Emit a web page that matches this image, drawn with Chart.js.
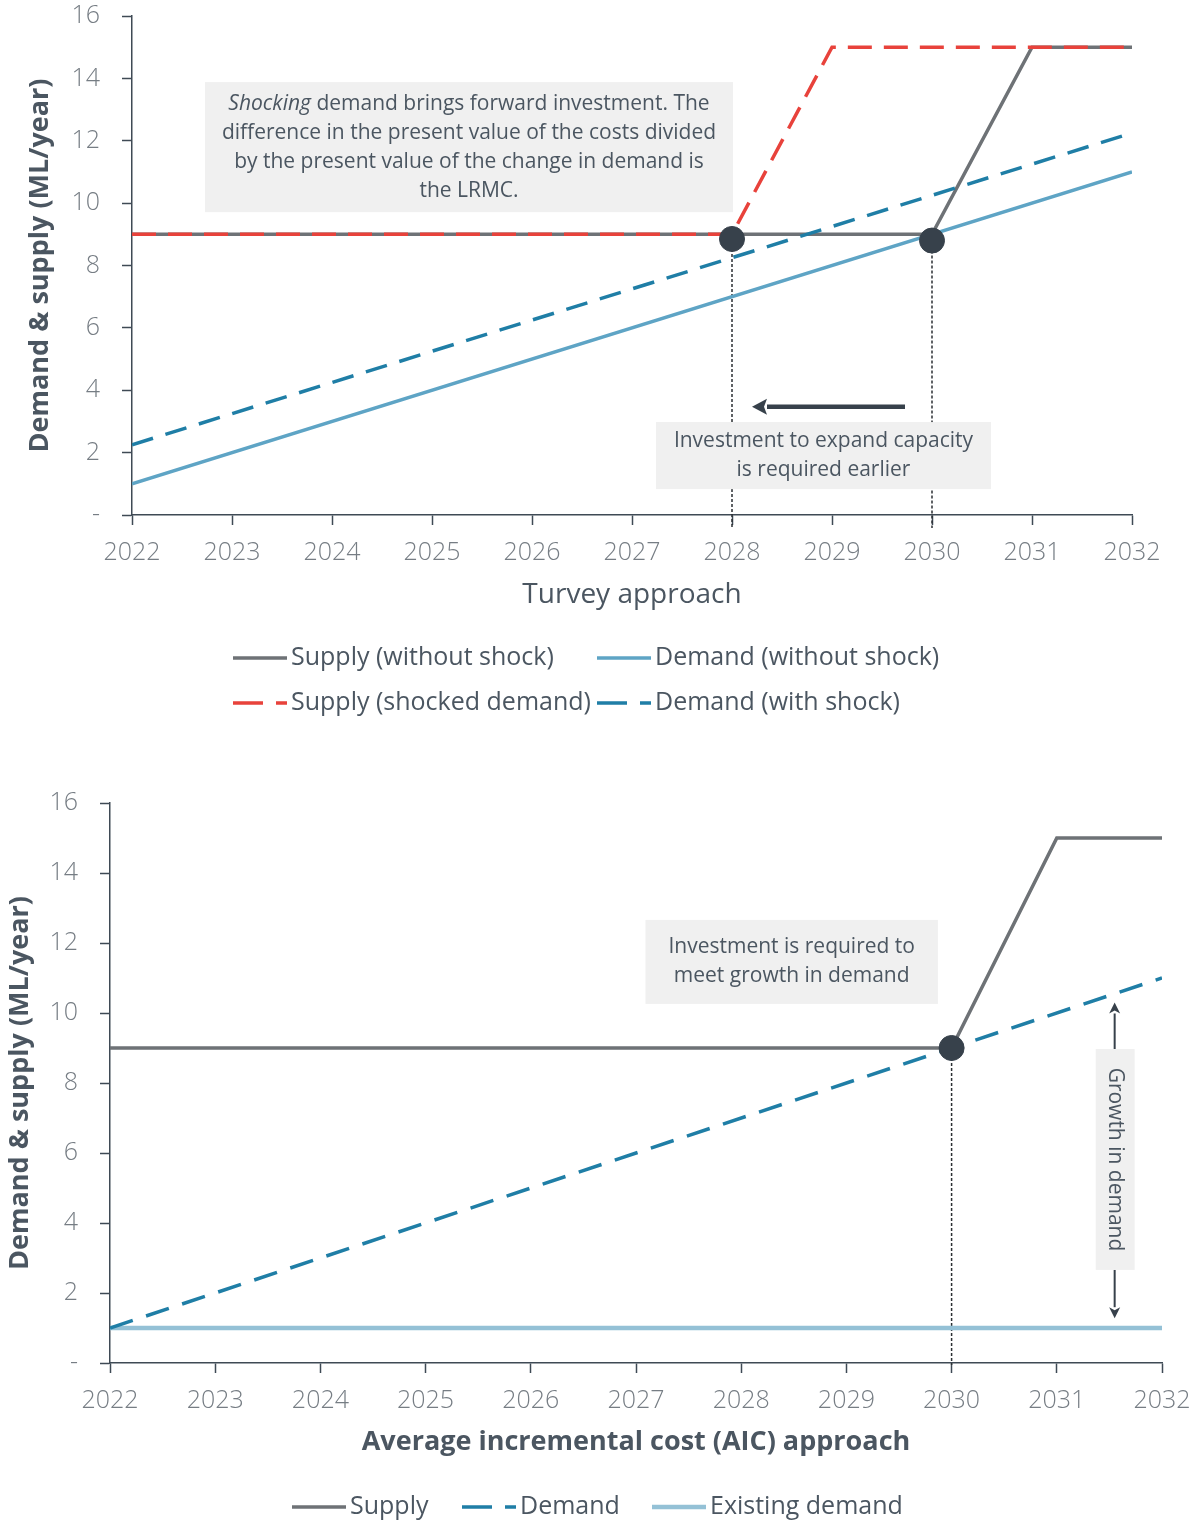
<!DOCTYPE html>
<html>
<head>
<meta charset="utf-8">
<script src="https://cdn.jsdelivr.net/npm/chart.js@4.4.1/dist/chart.umd.min.js"></script>
<style>
  body { margin: 0; background: #fff; }
  canvas { display: block; }
</style>
</head>
<body>
<canvas id="turvey" width="1194" height="740"></canvas>
<canvas id="aic" width="1194" height="782"></canvas>
<script>
// Tick labels
const xTickLabels = ["2022", "2023", "2024", "2025", "2026", "2027", "2028", "2029", "2030", "2031", "2032"];
const yTickLabels = ["-", "2", "4", "6", "8", "10", "12", "14", "16"];

// Turvey approach series
const supplyNoShockX = [2022, 2030, 2031, 2032];
const supplyNoShockY = [9, 9, 15, 15];
const supplyShockX = [2022, 2028, 2029, 2032];
const supplyShockY = [9, 9, 15, 15];
const demandNoShockX = [2022, 2032];
const demandNoShockY = [1, 11];
const demandShockX = [2022, 2032];
const demandShockY = [2.25, 12.25];
const turveyDotX = [2028, 2030];
const turveyDotY = [8.85, 8.8];

// AIC approach series
const aicSupplyX = [2022, 2030, 2031, 2032];
const aicSupplyY = [9, 9, 15, 15];
const aicDemandX = [2022, 2032];
const aicDemandY = [1, 11];
const aicExistingX = [2022, 2032];
const aicExistingY = [1, 1];
const aicDotX = [2030];
const aicDotY = [9];

const GREY = "#6e7276";
const LIGHT_BLUE = "#5ea4c5";
const DARK_BLUE = "#1f7ea6";
const RED = "#e8423b";
const PALE_BLUE = "#94c1d6";
const DOT = "#37414b";
const AXIS = "#3f4a55";
const TEXT = "#4b5661";
const TICK_TEXT = "#767d84";
const BOX_FILL = "#f0f0f0";
const FONT = "'Open Sans', 'Noto Sans', sans-serif";

const pts = (xs, ys) => xs.map((x, i) => ({ x, y: ys[i] }));

const line = (label, xs, ys, color, width, dash, order) => ({
  type: "line", label, data: pts(xs, ys), borderColor: color, backgroundColor: color,
  borderWidth: width, borderDash: dash, pointRadius: 0, order, tension: 0,
  borderCapStyle: "butt"
});

const dots = (xs, ys) => ({
  type: "scatter", label: "dots", data: pts(xs, ys), backgroundColor: DOT,
  borderColor: DOT, pointRadius: 12.5, pointHoverRadius: 12.5, order: 0
});

function axisOptions(cfg) {
  return {
    x: {
      type: "linear", min: 2022, max: 2032,
      // fixed box size so the plot area lands where the reference has it
      afterFit: s => { s.height = cfg.xHeight; s.paddingLeft = 0; s.paddingRight = 0; },
      border: { color: AXIS, width: 1.5 },
      grid: { drawOnChartArea: false, tickLength: 10, color: AXIS, tickColor: AXIS, tickWidth: 1.5 },
      ticks: {
        stepSize: 1, padding: 13, color: TICK_TEXT, maxRotation: 0,
        font: { family: FONT, size: 25, weight: "300" },
        callback: v => xTickLabels[v - 2022]
      },
      title: {
        display: true, text: cfg.xTitle, color: TEXT,
        font: { family: FONT, size: cfg.xTitleSize, weight: cfg.xTitleWeight },
        padding: { top: 0, bottom: cfg.xTitlePad }
      }
    },
    y: {
      min: 0, max: 16,
      afterFit: s => { s.width = cfg.yWidth; s.paddingTop = 0; s.paddingBottom = 0; },
      border: { color: AXIS, width: 1.5 },
      grid: { drawOnChartArea: false, tickLength: 10, color: AXIS, tickColor: AXIS, tickWidth: 1.5 },
      ticks: {
        stepSize: 2, padding: 22, color: TICK_TEXT,
        font: { family: FONT, size: 25, weight: "300" },
        callback: v => yTickLabels[v / 2]
      },
      title: {
        display: true, text: "Demand & supply (ML/year)", color: TEXT,
        font: { family: FONT, size: 27, weight: "bold" },
        padding: { top: cfg.yTitlePad, bottom: 0 }
      }
    }
  };
}

// Helpers for annotation drawing
function px(chart, xv, yv) {
  return [chart.scales.x.getPixelForValue(xv), chart.scales.y.getPixelForValue(yv)];
}

function drawVLine(chart, xv, yv, extra) {
  const { ctx } = chart;
  const [x, y] = px(chart, xv, yv);
  ctx.save();
  ctx.strokeStyle = "#2b2f33";
  ctx.lineWidth = 1.5;
  ctx.setLineDash([3, 2]);
  ctx.beginPath();
  ctx.moveTo(x, y);
  ctx.lineTo(x, chart.chartArea.bottom + extra);
  ctx.stroke();
  ctx.restore();
}

function drawArrow(ctx, x0, y0, x1, y1, width, headLen, headW) {
  const ang = Math.atan2(y1 - y0, x1 - x0);
  const bx = x1 - Math.cos(ang) * headLen, by = y1 - Math.sin(ang) * headLen;
  ctx.save();
  ctx.strokeStyle = DOT;
  ctx.fillStyle = DOT;
  ctx.lineWidth = width;
  ctx.beginPath();
  ctx.moveTo(x0, y0);
  ctx.lineTo(bx, by);
  ctx.stroke();
  ctx.beginPath();
  ctx.moveTo(x1, y1);
  ctx.lineTo(bx - Math.sin(ang) * headW / 2, by + Math.cos(ang) * headW / 2);
  ctx.lineTo(bx + Math.cos(ang) * 3, by + Math.sin(ang) * 3);
  ctx.lineTo(bx + Math.sin(ang) * headW / 2, by - Math.cos(ang) * headW / 2);
  ctx.closePath();
  ctx.fill();
  ctx.restore();
}

// box: {x0, x1, y0, y1, lines: [[[text, italic], ...], ...], lineGap}
function drawBox(chart, box) {
  const { ctx } = chart;
  const [l, t] = px(chart, box.x0, box.y0);
  const [r, b] = px(chart, box.x1, box.y1);
  ctx.save();
  ctx.fillStyle = BOX_FILL;
  ctx.fillRect(l, t, r - l, b - t);
  ctx.fillStyle = TEXT;
  ctx.textBaseline = "middle";
  const cx = (l + r) / 2;
  const cy = (t + b) / 2;
  const n = box.lines.length;
  box.lines.forEach((segs, i) => {
    const y = cy + (i - (n - 1) / 2) * box.lineGap;
    const widths = segs.map(([txt, it]) => {
      ctx.font = (it ? "italic " : "") + "21px " + FONT;
      return ctx.measureText(txt).width;
    });
    let x = cx - widths.reduce((a, w) => a + w, 0) / 2;
    segs.forEach(([txt, it], j) => {
      ctx.font = (it ? "italic " : "") + "21px " + FONT;
      ctx.textAlign = "left";
      ctx.fillText(txt, x, y);
      x += widths[j];
    });
  });
  ctx.restore();
}

function drawLegend(ctx, items) {
  ctx.save();
  ctx.font = "25px " + FONT;
  ctx.textBaseline = "middle";
  ctx.fillStyle = TEXT;
  items.forEach(it => {
    ctx.strokeStyle = it.color;
    ctx.lineWidth = it.width;
    ctx.setLineDash(it.dash);
    ctx.beginPath();
    ctx.moveTo(it.x, it.y);
    ctx.lineTo(it.x + 54, it.y);
    ctx.stroke();
    ctx.setLineDash([]);
    ctx.fillText(it.label, it.x + 58, it.y);
  });
  ctx.restore();
}

// Turvey chart
const turveyOverlay = {
  id: "turveyOverlay",
  beforeDatasetsDraw(chart) {
    turveyDotX.forEach((xv, i) => drawVLine(chart, xv, turveyDotY[i], 13));
  },
  afterDatasetsDraw(chart) {
    const { ctx } = chart;
    drawBox(chart, {
      x0: 2022.73, x1: 2028.01, y0: 13.88, y1: 9.71, lineGap: 29,
      lines: [
        [["Shocking", true], [" demand brings forward investment. The", false]],
        [["difference in the present value of the costs divided", false]],
        [["by the present value of the change in demand is", false]],
        [["the LRMC.", false]]
      ]
    });
    drawBox(chart, {
      x0: 2027.24, x1: 2030.59, y0: 2.98, y1: 0.83, lineGap: 29,
      lines: [
        [["Investment to expand capacity", false]],
        [["is required earlier", false]]
      ]
    });
    const [ax0, ay] = px(chart, 2029.73, 3.47);
    const [ax1] = px(chart, 2028.2, 3.47);
    drawArrow(ctx, ax0, ay, ax1, ay, 4.5, 15, 16);
  },
  afterDraw(chart) {
    drawLegend(chart.ctx, [
      { label: "Supply (without shock)", color: GREY, width: 3.5, dash: [], x: 233, y: 658 },
      { label: "Demand (without shock)", color: LIGHT_BLUE, width: 3.5, dash: [], x: 597, y: 658 },
      { label: "Supply (shocked demand)", color: RED, width: 3.5, dash: [30, 13], x: 233, y: 703 },
      { label: "Demand (with shock)", color: DARK_BLUE, width: 3.5, dash: [30, 13], x: 597, y: 703 }
    ]);
  }
};

new Chart(document.getElementById("turvey"), {
  data: {
    datasets: [
      dots(turveyDotX, turveyDotY),
      line("Supply (shocked demand)", supplyShockX, supplyShockY, RED, 3.5, [24, 12], 1),
      line("Demand (with shock)", demandShockX, demandShockY, DARK_BLUE, 3.5, [22, 13], 2),
      line("Supply (without shock)", supplyNoShockX, supplyNoShockY, GREY, 3.5, [], 3),
      line("Demand (without shock)", demandNoShockX, demandNoShockY, LIGHT_BLUE, 3.5, [], 4)
    ]
  },
  options: {
    responsive: false,
    animation: false,
    layout: { padding: { left: 0, right: 62, top: 16, bottom: 0 } },
    plugins: { legend: { display: false }, tooltip: { enabled: false } },
    scales: axisOptions({
      xHeight: 225, xTitle: "Turvey approach", xTitleSize: 28, xTitleWeight: "normal", xTitlePad: 128,
      yWidth: 132, yTitlePad: 24
    })
  },
  plugins: [turveyOverlay]
});

// AIC chart
const aicOverlay = {
  id: "aicOverlay",
  beforeDatasetsDraw(chart) {
    aicDotX.forEach((xv, i) => drawVLine(chart, xv, aicDotY[i], 2));
  },
  afterDatasetsDraw(chart) {
    const { ctx } = chart;
    drawBox(chart, {
      x0: 2027.09, x1: 2029.87, y0: 12.66, y1: 10.26, lineGap: 29,
      lines: [
        [["Investment is required to", false]],
        [["meet growth in demand", false]]
      ]
    });
    // Growth in demand label with arrows
    const [l, t] = px(chart, 2031.37, 8.97);
    const [r, b] = px(chart, 2031.74, 2.66);
    const [ax] = px(chart, 2031.55, 0);
    const [, upY] = px(chart, 0, 10.3);
    const [, downY] = px(chart, 0, 1.28);
    drawArrow(ctx, ax, t, ax, upY, 2, 11, 11);
    drawArrow(ctx, ax, b, ax, downY, 2, 11, 11);
    ctx.save();
    ctx.fillStyle = BOX_FILL;
    ctx.fillRect(l, t, r - l, b - t);
    ctx.translate((l + r) / 2, (t + b) / 2);
    ctx.rotate(Math.PI / 2);
    ctx.fillStyle = TEXT;
    ctx.font = "21px " + FONT;
    ctx.textAlign = "center";
    ctx.textBaseline = "middle";
    ctx.fillText("Growth in demand", 0, 0);
    ctx.restore();
  },
  afterDraw(chart) {
    drawLegend(chart.ctx, [
      { label: "Supply", color: GREY, width: 3.5, dash: [], x: 292, y: 767 },
      { label: "Demand", color: DARK_BLUE, width: 3.5, dash: [30, 13], x: 462, y: 767 },
      { label: "Existing demand", color: PALE_BLUE, width: 4.5, dash: [], x: 652, y: 767 }
    ]);
  }
};

new Chart(document.getElementById("aic"), {
  data: {
    datasets: [
      dots(aicDotX, aicDotY),
      line("Demand", aicDemandX, aicDemandY, DARK_BLUE, 3.5, [24, 14], 1),
      line("Supply", aicSupplyX, aicSupplyY, GREY, 3.5, [], 2),
      line("Existing demand", aicExistingX, aicExistingY, PALE_BLUE, 4.5, [], 3)
    ]
  },
  options: {
    responsive: false,
    animation: false,
    layout: { padding: { left: 0, right: 32, top: 63, bottom: 0 } },
    plugins: { legend: { display: false }, tooltip: { enabled: false } },
    scales: axisOptions({
      xHeight: 159, xTitle: "Average incremental cost (AIC) approach", xTitleSize: 27, xTitleWeight: "bold", xTitlePad: 63,
      yWidth: 110, yTitlePad: 4
    })
  },
  plugins: [aicOverlay]
});
</script>
</body>
</html>
